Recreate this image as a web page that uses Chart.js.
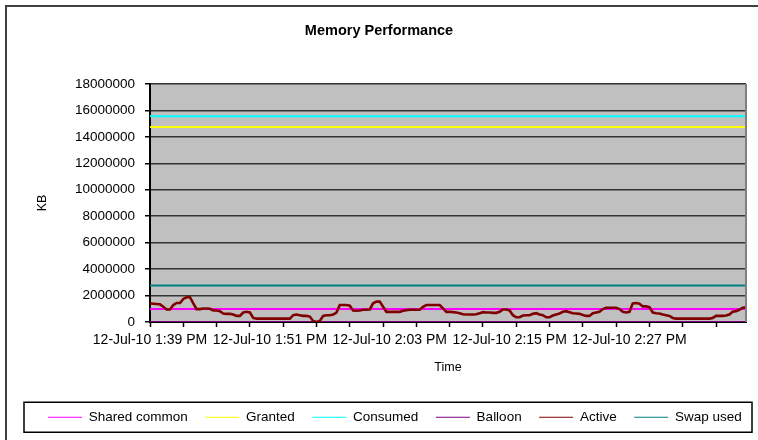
<!DOCTYPE html>
<html lang="en">
<head>
  <meta charset="UTF-8">
  <title>Memory Performance</title>
  <script src="https://cdn.jsdelivr.net/npm/chart.js"></script>
  <style>
    html, body { margin: 0; padding: 0; background: #fff; }
  </style>
</head>
<body>
  <canvas id="chart" width="758" height="440"></canvas>

  <script>
    // Samples every 20 s, starting 12-Jul-10 1:39 PM (KB)
    const active = [
      1410000, 1385000, 1359000, 1333000, 1154000, 949000, 949000, 1282000, 1436000, 1436000,
      1744000, 1872000, 1872000, 1410000, 974000, 974000, 1026000, 1026000, 1000000, 872000,
      872000, 821000, 641000, 615000, 615000, 564000, 462000, 462000, 718000, 769000,
      718000, 308000, 256000, 256000, 256000, 256000, 256000, 256000, 256000, 256000,
      256000, 256000, 256000, 513000, 564000, 513000, 462000, 462000, 410000, 77000,
      0, 77000, 462000, 513000, 513000, 564000, 718000, 1282000, 1282000, 1282000,
      1231000, 872000, 846000, 872000, 923000, 923000, 949000, 1410000, 1538000, 1538000,
      1154000, 769000, 769000, 769000, 769000, 769000, 846000, 897000, 923000, 923000,
      923000, 923000, 1154000, 1282000, 1282000, 1282000, 1282000, 1282000, 1026000, 769000,
      769000, 744000, 718000, 667000, 590000, 564000, 564000, 564000, 590000, 667000,
      744000, 718000, 718000, 692000, 692000, 769000, 949000, 949000, 872000, 513000,
      359000, 359000, 487000, 513000, 513000, 615000, 667000, 564000, 513000, 359000,
      359000, 487000, 564000, 641000, 769000, 821000, 744000, 667000, 641000, 615000,
      538000, 462000, 462000, 667000, 718000, 769000, 974000, 1077000, 1077000, 1077000,
      1077000, 974000, 769000, 718000, 769000, 1410000, 1436000, 1385000, 1179000, 1179000,
      1128000, 718000, 667000, 641000, 564000, 513000, 462000, 308000, 256000, 256000,
      256000, 256000, 256000, 256000, 256000, 256000, 256000, 256000, 256000, 308000,
      462000, 462000, 462000, 487000, 564000, 769000, 821000, 923000, 1077000, 1103000
    ];
    // flat series
    const sharedCommon = 980000;
    const granted = 14750000;
    const consumed = 15560000;
    const balloon = 0;
    const swapUsed = 2750000;

    const seriesNames = ['Shared common', 'Granted', 'Consumed', 'Balloon', 'Active', 'Swap used'];
    const seriesColors = ['#ff00ff', '#ffff00', '#00ffff', '#800080', '#800000', '#008080'];
    const yTicks = [0, 2000000, 4000000, 6000000, 8000000, 10000000, 12000000, 14000000, 16000000, 18000000];

    // category labels: one per 20 s sample
    const timeLabels = [];
    for (let i = 0; i < active.length; i++) {
      const m = 39 + Math.floor(i / 3);
      const h = 1 + Math.floor(m / 60);
      timeLabels.push('12-Jul-10 ' + h + ':' + String(m % 60).padStart(2, '0') + ' PM');
    }

    const seriesData = [
      active.map(() => sharedCommon),
      active.map(() => granted),
      active.map(() => consumed),
      active.map(() => balloon),
      active,
      active.map(() => swapUsed)
    ];

    const FONT = 'Arial, "Liberation Sans", sans-serif';
    Chart.defaults.font.family = FONT;
    Chart.defaults.color = '#000';

    const LEGEND_SHIFT = 18.5;

    // grey plot area, frames, legend nudged right like the Excel one
    const frames = {
      id: 'frames',
      afterLayout(chart) {
        chart.legend.left += LEGEND_SHIFT;
        chart.legend.right += LEGEND_SHIFT;
      },
      beforeDraw(chart) {
        const { ctx, chartArea: a } = chart;
        ctx.save();
        ctx.fillStyle = '#c0c0c0';
        ctx.fillRect(a.left, a.top, a.right - a.left, a.bottom - a.top);
        ctx.restore();
      },
      afterDraw(chart) {
        const { ctx, chartArea: a, legend } = chart;
        ctx.save();
        ctx.strokeStyle = '#808080';
        ctx.lineWidth = 2;
        ctx.beginPath();
        ctx.moveTo(a.right, a.top);
        ctx.lineTo(a.right, a.bottom);
        ctx.stroke();

        const hb = legend.legendHitBoxes[0];
        const cy = hb.top + hb.height / 2;
        ctx.strokeStyle = '#000';
        ctx.lineWidth = 1.5;
        ctx.strokeRect(legend.left - 6.5, cy - 15, a.right + 6 - (legend.left - 6.5), 30);

        ctx.strokeStyle = '#404040';
        ctx.lineWidth = 2;
        ctx.strokeRect(6, 6, chart.width + 20, chart.height + 20);
        ctx.restore();
      }
    };

    const ctx = document.getElementById('chart');
    new Chart(ctx, {
      type: 'line',
      data: {
        labels: timeLabels,
        datasets: seriesNames.map((name, i) => ({
          label: name,
          data: seriesData[i],
          borderColor: seriesColors[i],
          backgroundColor: seriesColors[i],
          borderWidth: name === 'Active' ? 2.6 : 2,
          pointRadius: 0,
          tension: 0,
          order: seriesNames.length - i
        }))
      },
      options: {
        responsive: false,
        animation: false,
        events: [],
        layout: { padding: { left: 12, right: 12, top: 0, bottom: 6 } },
        plugins: {
          title: {
            display: true,
            text: 'Memory Performance',
            font: { size: 14.5, weight: 'bold' },
            padding: { top: 22, bottom: 44.5 }
          },
          legend: {
            position: 'bottom',
            align: 'start',
            labels: {
              usePointStyle: true,
              pointStyle: 'line',
              pointStyleWidth: 34,
              padding: 17.5,
              font: { size: 13.5 },
              sort: (a, b) => a.datasetIndex - b.datasetIndex,
              generateLabels: chart =>
                Chart.defaults.plugins.legend.labels.generateLabels(chart).map(it => ({ ...it, lineWidth: 1 }))
            }
          },
          tooltip: { enabled: false }
        },
        scales: {
          x: {
            grid: {
              drawOnChartArea: false,
              tickLength: 5,
              tickWidth: 1.5,
              tickColor: c => (c.index % 10 === 0 ? '#000' : 'rgba(0,0,0,0)')
            },
            border: { color: '#000', width: 2 },
            ticks: {
              autoSkip: false,
              maxRotation: 0,
              minRotation: 0,
              padding: 5,
              font: { size: 14 },
              callback(v, i) { return i % 36 === 0 ? this.getLabelForValue(v) : ''; }
            },
            title: { display: true, text: 'Time', font: { size: 12.5 }, padding: { top: 0, bottom: 17.5 } },
            afterFit: s => { s.height = 71; }
          },
          y: {
            min: 0,
            max: 18000000,
            afterBuildTicks: s => { s.ticks = yTicks.map(v => ({ value: v })); },
            ticks: { padding: 10, font: { size: 13.5 }, callback: v => String(v) },
            grid: { color: '#333', lineWidth: 1.5, tickColor: '#000', tickLength: 5 },
            border: { color: '#000', width: 2 },
            title: { display: true, text: 'KB', font: { size: 12.5 }, padding: { top: 23.5, bottom: 0 } },
            afterFit: s => { s.width = 138; }
          }
        }
      },
      plugins: [frames]
    });
  </script>
</body>
</html>
